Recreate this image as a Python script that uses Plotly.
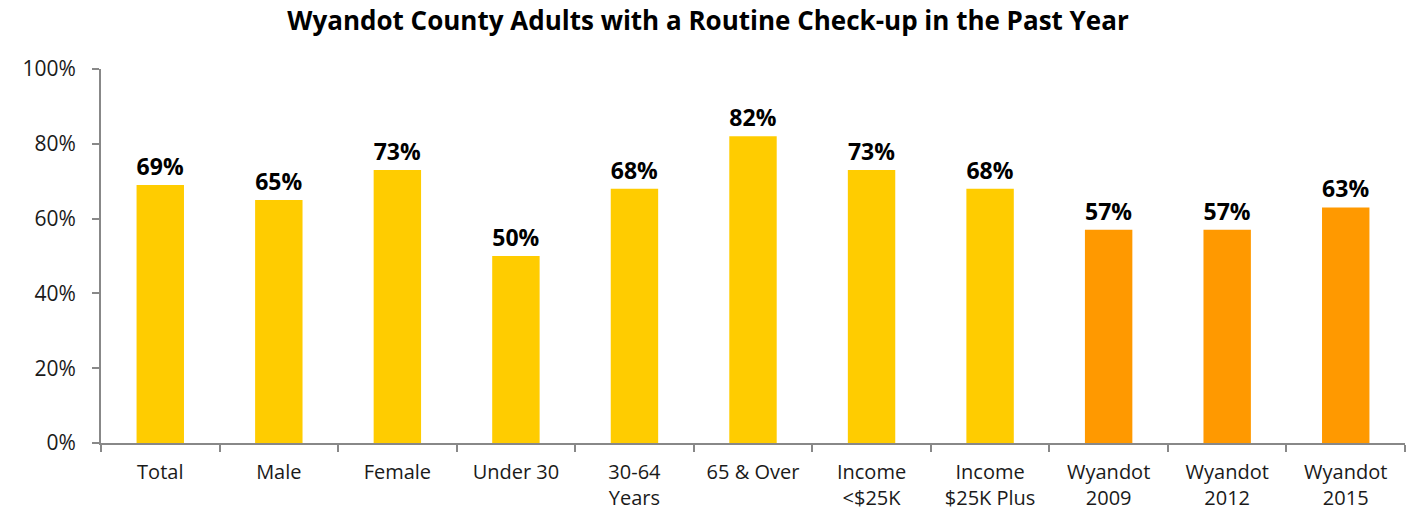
import plotly.graph_objects as go

categories = ["Total", "Male", "Female", "Under 30", "30-64<br>Years", "65 & Over",
              "Income<br>&lt;$25K", "Income<br>$25K Plus", "Wyandot<br>2009",
              "Wyandot<br>2012", "Wyandot<br>2015"]
values = [69, 65, 73, 50, 68, 82, 73, 68, 57, 57, 63]
labels = [f"{v}%" for v in values]
colors = ["#FFCC00"] * 8 + ["#FF9900"] * 3
ytick_vals = [0, 20, 40, 60, 80, 100]
ytick_text = [f"{v}%" for v in ytick_vals]

fig = go.Figure(go.Bar(
    x=list(range(len(categories))), y=values, text=labels, textposition="outside",
    marker=dict(color=colors, line=dict(width=0)),
    textfont=dict(family="Open Sans", size=23, color="#000000", weight="bold"),
    cliponaxis=False, width=0.4,
))

fig.update_layout(
    width=1416, height=513,
    margin=dict(l=101, r=11, t=69, b=70, autoexpand=False),
    paper_bgcolor="white", plot_bgcolor="white",
    showlegend=False,
    title=dict(text="<b>Wyandot County Adults with a Routine Check-up in the Past Year</b>",
               x=0.5, xanchor="center", y=0.96, yanchor="middle", automargin=False,
               font=dict(family="Open Sans", size=26, color="#000000")),
    font=dict(family="Open Sans", size=20, color="#1a1a1a"),
)
fig.update_xaxes(
    tickmode="array", tickvals=list(range(len(categories))), ticktext=categories,
    range=[-0.5, len(categories) - 0.5], automargin=False,
    showline=True, linecolor="#888888", linewidth=2,
    ticks="outside", ticklen=0, showgrid=False, zeroline=False,
    tickfont=dict(size=20), ticklabelstandoff=10,
)
fig.update_xaxes(minor=dict(tickmode="array", tickvals=[i - 0.5 for i in range(len(categories) + 1)],
                            ticks="outside", ticklen=7, tickcolor="#888888", tickwidth=2))
fig.update_yaxes(
    range=[0, 100], tickmode="array", tickvals=ytick_vals, ticktext=ytick_text, automargin=False,
    showline=True, linecolor="#888888", linewidth=2,
    ticks="outside", ticklen=7, tickcolor="#888888", tickwidth=2,
    showgrid=False, zeroline=False, tickfont=dict(size=21), ticklabelstandoff=12,
)
fig.write_html("out.html", config={"displayModeBar": False},
               post_script="document.body.style.margin='0';document.body.style.padding='0';")
